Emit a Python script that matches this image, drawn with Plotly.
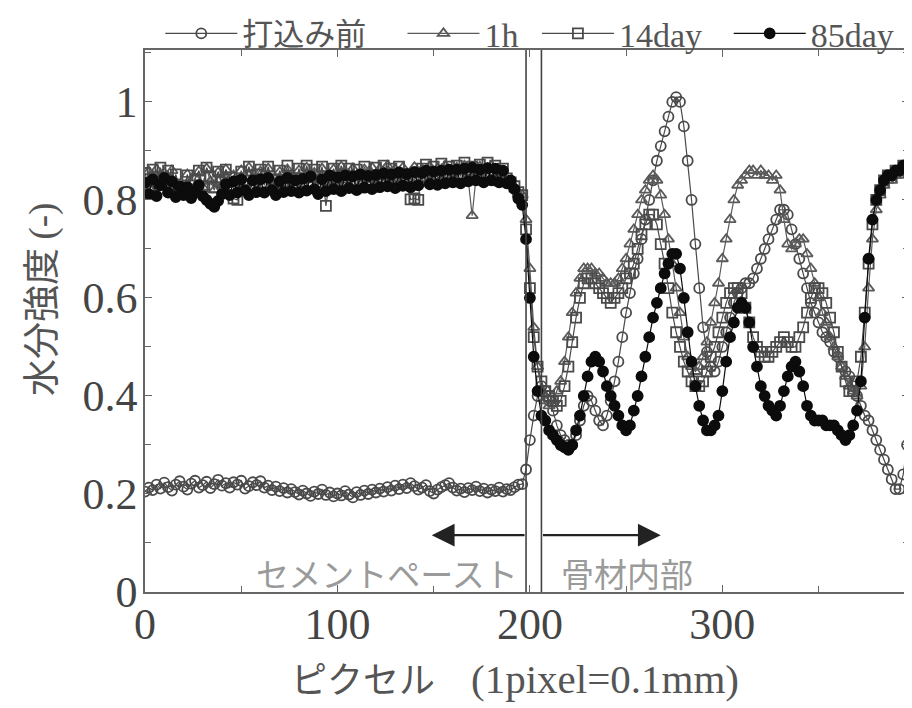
import plotly.graph_objects as go

# ---------------- data ----------------
# sampling positions (pixel index), every 2 pixels
X_LEFT = list(range(0, 195, 2))      # 0 .. 194  (98 samples)
X_RIGHT = list(range(196, 397, 2))   # 196 .. 396 (101 samples)
PIXEL = X_LEFT + X_RIGHT

before_left = [
    0.205, 0.213, 0.208, 0.219, 0.211, 0.223, 0.214, 0.207, 0.219, 0.226,
    0.215, 0.209, 0.221, 0.227, 0.213, 0.218, 0.225, 0.212, 0.220, 0.229,
    0.217, 0.222, 0.213, 0.224, 0.219, 0.227, 0.211, 0.216, 0.224, 0.218,
    0.226, 0.213, 0.217, 0.208, 0.215, 0.206, 0.212, 0.203, 0.210, 0.204,
    0.199, 0.207, 0.201, 0.196, 0.205, 0.200, 0.209, 0.198, 0.203, 0.195,
    0.201, 0.197, 0.206, 0.199, 0.193, 0.204, 0.198, 0.207, 0.200, 0.209,
    0.203, 0.211, 0.205, 0.214, 0.207, 0.217, 0.210, 0.219, 0.212, 0.222,
    0.216, 0.209, 0.213, 0.218, 0.206, 0.201, 0.209, 0.214, 0.218, 0.222,
    0.213, 0.207, 0.211, 0.204, 0.212, 0.208, 0.215, 0.206, 0.211, 0.203,
    0.209, 0.206, 0.213, 0.205, 0.210, 0.208, 0.214, 0.219]
before_right = [
    0.22, 0.25, 0.31, 0.36, 0.40, 0.42, 0.41, 0.39, 0.37, 0.34,
    0.32, 0.31, 0.30, 0.30, 0.32, 0.35, 0.38, 0.40, 0.39, 0.37,
    0.35, 0.34, 0.36, 0.39, 0.43, 0.47, 0.52, 0.57, 0.61, 0.65,
    0.68, 0.72, 0.76, 0.80, 0.84, 0.88, 0.91, 0.94, 0.97, 1.00,
    1.01, 1.00, 0.95, 0.88, 0.80, 0.71, 0.62, 0.54, 0.49, 0.46,
    0.45, 0.47, 0.50, 0.53, 0.56, 0.59, 0.61, 0.62, 0.63, 0.63,
    0.64, 0.66, 0.68, 0.70, 0.72, 0.74, 0.76, 0.78, 0.78, 0.77,
    0.74, 0.71, 0.68, 0.65, 0.62, 0.59, 0.57, 0.55, 0.53, 0.52,
    0.51, 0.49, 0.48, 0.46, 0.45, 0.44, 0.42, 0.40, 0.38, 0.36,
    0.35, 0.33, 0.31, 0.29, 0.27, 0.25, 0.23, 0.21, 0.21, 0.24,
    0.30]

h1_left = [
    0.832, 0.858, 0.822, 0.862, 0.836, 0.855, 0.818, 0.860, 0.830, 0.824,
    0.815, 0.852, 0.812, 0.845, 0.858, 0.826, 0.864, 0.838, 0.820, 0.856,
    0.830, 0.862, 0.825, 0.850, 0.818, 0.860, 0.834, 0.866, 0.845, 0.824,
    0.858, 0.830, 0.864, 0.840, 0.822, 0.857, 0.833, 0.862, 0.846, 0.828,
    0.860, 0.832, 0.866, 0.842, 0.855, 0.830, 0.864, 0.848, 0.828, 0.862,
    0.838, 0.868, 0.846, 0.832, 0.864, 0.850, 0.830, 0.862, 0.842, 0.866,
    0.834, 0.863, 0.846, 0.870, 0.838, 0.862, 0.832, 0.866, 0.848, 0.836,
    0.867, 0.842, 0.862, 0.834, 0.868, 0.848, 0.864, 0.838, 0.870, 0.850,
    0.842, 0.866, 0.848, 0.870, 0.840, 0.768, 0.846, 0.868, 0.846, 0.864,
    0.870, 0.842, 0.862, 0.848, 0.838, 0.832, 0.826, 0.812]
h1_right = [
    0.81, 0.76, 0.66, 0.54, 0.46, 0.41, 0.39, 0.38, 0.39, 0.41,
    0.43, 0.47, 0.52, 0.57, 0.61, 0.64, 0.66, 0.66, 0.66, 0.65,
    0.65, 0.64, 0.63, 0.63, 0.63, 0.64, 0.66, 0.68, 0.71, 0.74,
    0.77, 0.80, 0.82, 0.84, 0.85, 0.84, 0.81, 0.77, 0.72, 0.67,
    0.62, 0.57, 0.52, 0.48, 0.46, 0.45, 0.46, 0.48, 0.51, 0.55,
    0.59, 0.63, 0.68, 0.72, 0.76, 0.80, 0.83, 0.84, 0.85, 0.86,
    0.86, 0.85, 0.86, 0.85, 0.85, 0.84, 0.85, 0.82, 0.76, 0.71,
    0.70, 0.71, 0.72, 0.72, 0.69, 0.66, 0.63, 0.60, 0.57, 0.55,
    0.52, 0.50, 0.48, 0.46, 0.44, 0.42, 0.41, 0.40, 0.42, 0.50,
    0.62, 0.72, 0.78, 0.81, 0.83, 0.84, 0.84, 0.85, 0.85, 0.86,
    0.86]

d14_left = [
    0.855, 0.828, 0.862, 0.838, 0.866, 0.832, 0.860, 0.830, 0.852, 0.826,
    0.818, 0.850, 0.815, 0.842, 0.860, 0.828, 0.866, 0.848, 0.826, 0.858,
    0.836, 0.862, 0.845, 0.803, 0.800, 0.858, 0.840, 0.868, 0.830, 0.852,
    0.862, 0.836, 0.868, 0.842, 0.830, 0.860, 0.838, 0.870, 0.844, 0.832,
    0.864, 0.838, 0.870, 0.846, 0.862, 0.836, 0.868, 0.788, 0.842, 0.864,
    0.840, 0.870, 0.846, 0.864, 0.836, 0.862, 0.842, 0.868, 0.848, 0.834,
    0.866, 0.842, 0.870, 0.840, 0.864, 0.836, 0.868, 0.846, 0.838, 0.801,
    0.803, 0.800, 0.864, 0.872, 0.842, 0.868, 0.844, 0.874, 0.848, 0.868,
    0.842, 0.870, 0.850, 0.876, 0.842, 0.868, 0.846, 0.872, 0.850, 0.876,
    0.846, 0.870, 0.840, 0.864, 0.844, 0.836, 0.828, 0.816]
d14_right = [
    0.81, 0.74, 0.62, 0.52, 0.46, 0.43, 0.41, 0.40, 0.39, 0.38,
    0.39, 0.42, 0.46, 0.51, 0.56, 0.60, 0.63, 0.64, 0.64, 0.63,
    0.62, 0.61, 0.60, 0.59, 0.60, 0.61, 0.62, 0.64, 0.65, 0.67,
    0.70, 0.73, 0.75, 0.77, 0.77, 0.75, 0.71, 0.67, 0.62, 0.57,
    0.53, 0.50, 0.47, 0.45, 0.43, 0.42, 0.42, 0.43, 0.45, 0.48,
    0.50, 0.53, 0.56, 0.59, 0.61, 0.62, 0.62, 0.61, 0.58, 0.55,
    0.52, 0.50, 0.49, 0.48, 0.48, 0.49, 0.50, 0.51, 0.52, 0.51,
    0.50, 0.50, 0.52, 0.54, 0.57, 0.60, 0.62, 0.62, 0.61, 0.59,
    0.56, 0.53, 0.49, 0.46, 0.43, 0.41, 0.41, 0.43, 0.48, 0.57,
    0.67, 0.75, 0.80, 0.82, 0.84, 0.85, 0.85, 0.86, 0.86, 0.87,
    0.87]

d85_left = [
    0.835, 0.812, 0.842, 0.808, 0.830, 0.845, 0.815, 0.838, 0.806, 0.828,
    0.810, 0.826, 0.804, 0.818, 0.830, 0.808, 0.800, 0.792, 0.786, 0.798,
    0.812, 0.832, 0.810, 0.838, 0.815, 0.842, 0.820, 0.810, 0.840, 0.816,
    0.842, 0.815, 0.845, 0.820, 0.810, 0.838, 0.816, 0.845, 0.818, 0.840,
    0.815, 0.843, 0.819, 0.848, 0.822, 0.812, 0.842, 0.818, 0.850, 0.822,
    0.846, 0.818, 0.850, 0.824, 0.848, 0.820, 0.852, 0.825, 0.849, 0.822,
    0.851, 0.826, 0.854, 0.828, 0.852, 0.824, 0.856, 0.829, 0.853, 0.826,
    0.857, 0.830, 0.855, 0.860, 0.832, 0.858, 0.831, 0.860, 0.834, 0.862,
    0.836, 0.862, 0.834, 0.864, 0.838, 0.866, 0.840, 0.862, 0.836, 0.865,
    0.840, 0.864, 0.836, 0.860, 0.834, 0.840, 0.822, 0.803]
d85_right = [
    0.79, 0.72, 0.60, 0.48, 0.41, 0.36, 0.35, 0.33, 0.32, 0.31,
    0.30, 0.295, 0.29, 0.30, 0.33, 0.36, 0.40, 0.44, 0.47, 0.48,
    0.47, 0.45, 0.42, 0.40, 0.38, 0.36, 0.34, 0.33, 0.34, 0.37,
    0.40, 0.44, 0.48, 0.52, 0.56, 0.59, 0.62, 0.65, 0.67, 0.69,
    0.69, 0.66, 0.60, 0.53, 0.47, 0.42, 0.38, 0.35, 0.33, 0.33,
    0.34, 0.36, 0.41, 0.47, 0.52, 0.55, 0.58, 0.59, 0.58, 0.55,
    0.50, 0.46, 0.42, 0.40, 0.38, 0.37, 0.36, 0.38, 0.41, 0.44,
    0.46, 0.47, 0.45, 0.42, 0.38, 0.36, 0.35, 0.35, 0.35, 0.34,
    0.34, 0.34, 0.33, 0.32, 0.31, 0.32, 0.34, 0.37, 0.43, 0.56,
    0.68, 0.76, 0.80, 0.82, 0.84, 0.85, 0.85, 0.86, 0.86, 0.87,
    0.87]

SERIES_NAMES = ["打込み前", "1h", "14day", "85day"]
SERIES_VALUES = [before_left + before_right, h1_left + h1_right,
                 d14_left + d14_right, d85_left + d85_right]

X_TICKS = [0, 100, 200, 300]
X_TICK_TEXT = ["0", "100", "200", "300"]
Y_TICKS = [0, 0.2, 0.4, 0.6, 0.8, 1.0]
Y_TICK_TEXT = ["0", "0.2", "0.4", "0.6", "0.8", "1"]

BOUNDARY_X = [198, 206]
ARROW_TIPS = [149, 268]
ARROW_Y = 0.116

# ---------------- styles ----------------
SERIF = "Liberation Serif, Noto Sans CJK JP, serif"
CJK = "Noto Sans CJK JP, sans-serif"
styles = [
    dict(symbol="circle-open", color="#4a4a4a"),
    dict(symbol="triangle-up-open", color="#5a5a5a"),
    dict(symbol="square-open", color="#4a4a4a"),
    dict(symbol="circle", color="#0c0c0c"),
]
legend_ids = ["legend", "legend2", "legend3", "legend4"]
legend_x = [0.020, 0.337, 0.513, 0.764]
legend_font = [dict(family=CJK, size=31, color="#555555"),
               dict(family=SERIF, size=34, color="#555555"),
               dict(family=SERIF, size=34, color="#555555"),
               dict(family=SERIF, size=34, color="#555555")]

fig = go.Figure()
for name, vals, st, lid in zip(SERIES_NAMES, SERIES_VALUES, styles, legend_ids):
    fig.add_trace(go.Scatter(
        x=PIXEL, y=vals, name=name, mode="lines+markers", legend=lid,
        line=dict(color=st["color"], width=1.2),
        marker=dict(symbol=st["symbol"], size=10, color=st["color"],
                    line=dict(color=st["color"], width=1.8)),
    ))

for bx in BOUNDARY_X:
    fig.add_shape(type="line", x0=bx, x1=bx, y0=0, y1=1, xref="x", yref="paper",
                  line=dict(color="#444444", width=1.6))

# arrows
for tip, base in zip(ARROW_TIPS, BOUNDARY_X):
    fig.add_annotation(x=tip, y=ARROW_Y, ax=base, ay=ARROW_Y, xref="x", yref="y",
                       axref="x", ayref="y", showarrow=True, arrowhead=2, arrowsize=1.9,
                       arrowwidth=2.4, arrowcolor="#222222", text="")
fig.add_annotation(x=195, y=0.038, xref="x", yref="y", text="セメントペースト",
                   showarrow=False, xanchor="right", yanchor="middle",
                   font=dict(family=CJK, size=33, color="#9a9a9a"))
fig.add_annotation(x=215, y=0.038, xref="x", yref="y", text="骨材内部",
                   showarrow=False, xanchor="left", yanchor="middle",
                   font=dict(family=CJK, size=33, color="#9a9a9a"))

# axis titles
fig.add_annotation(x=-0.138, y=0.54, xref="paper", yref="paper", textangle=-90,
                   xanchor="center", yanchor="middle",
                   text="水分強度 <span style='font-family:Liberation Serif'>(-)</span>",
                   showarrow=False, font=dict(family=CJK, size=37, color="#555555"))
fig.add_annotation(x=0.484, y=-0.156, xref="paper", yref="paper",
                   xanchor="center", yanchor="middle",
                   text="ピクセル　<span style='font-family:Liberation Serif;font-size:41px'>(1pixel=0.1mm)</span>",
                   showarrow=False, font=dict(family=CJK, size=36, color="#555555"))

axis_common = dict(showline=True, mirror="ticks", linecolor="#666666", linewidth=1.6,
                   ticks="inside", ticklen=7, tickcolor="#666666", showgrid=False,
                   zeroline=False, automargin=False,
                   tickfont=dict(family=SERIF, size=44, color="#444444"))

fig.update_xaxes(range=[0, 397], tickvals=X_TICKS, ticktext=X_TICK_TEXT,
                 ticklabelstandoff=-8,
                 minor=dict(ticks="inside", dtick=50, tick0=0, ticklen=6, tickcolor="#666666"),
                 **axis_common)
fig.update_yaxes(range=[0, 1.106], tickvals=Y_TICKS, ticktext=Y_TICK_TEXT,
                 ticklabelstandoff=-3,
                 minor=dict(ticks="inside", dtick=0.1, tick0=0, ticklen=6, tickcolor="#666666"),
                 **axis_common)

legend_layout = {}
for lid, lx, lf in zip(legend_ids, legend_x, legend_font):
    legend_layout[lid] = dict(orientation="h", x=lx, y=1.030, xanchor="left", yanchor="middle",
                              font=lf, itemwidth=72, bgcolor="rgba(0,0,0,0)",
                              borderwidth=0)

# the page adds an ~8px body margin, so margins are offset to land the plot area
# where the reference has it (left 145, top 50, right 909, bottom 592)
fig.update_layout(
    width=912, height=708,
    margin=dict(l=137, r=11, t=42, b=124, autoexpand=False),
    paper_bgcolor="white", plot_bgcolor="white",
    showlegend=True,
    **legend_layout,
)

fig.write_html("out.html")
